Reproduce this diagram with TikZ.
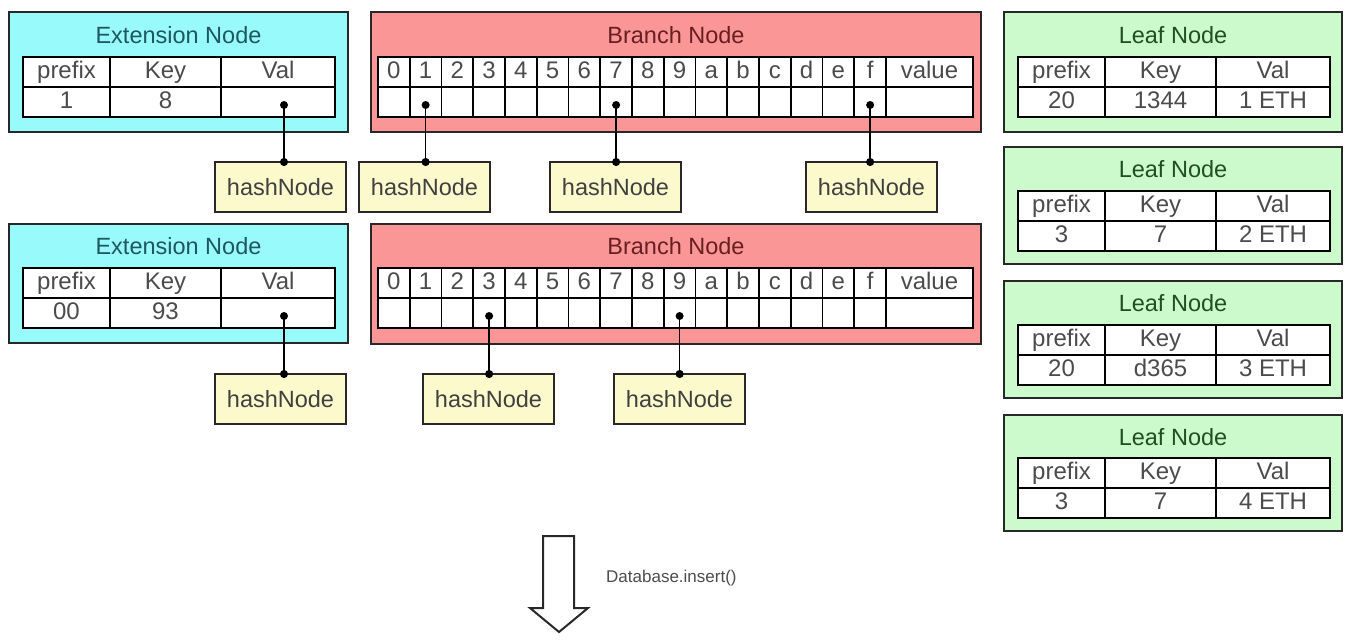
\documentclass[tikz,border=0pt]{standalone}
\usepackage{fontspec}
\setmainfont{Liberation Sans}
\usetikzlibrary{arrows.meta}
\definecolor{extfill}{RGB}{153,250,252}
\definecolor{brfill}{RGB}{250,150,150}
\definecolor{leaffill}{RGB}{204,250,204}
\definecolor{hashfill}{RGB}{252,250,204}
\definecolor{exttext}{RGB}{30,88,95}
\definecolor{brtext}{RGB}{105,30,35}
\definecolor{leaftext}{RGB}{30,80,35}
\definecolor{celltext}{RGB}{75,75,75}
\definecolor{boxline}{RGB}{40,40,40}
\tikzset{
  outerbox/.style={draw=boxline, line width=2pt, anchor=north west, inner sep=0pt, outer sep=0pt},
  extbox/.style={outerbox, fill=extfill},
  brbox/.style={outerbox, fill=brfill},
  leafbox/.style={outerbox, fill=leaffill},
  boxtitle/.style={font=\fontsize{23.5}{27}\selectfont, inner sep=0pt},
  cell/.style={draw=black, line width=1.8pt, fill=white, anchor=north west, inner sep=0pt, outer sep=0pt,
    minimum height=30pt, text height=17pt, text depth=5pt, text=celltext, font=\fontsize{24}{27}\selectfont},
  hashbox/.style={draw=boxline, line width=2pt, fill=hashfill, minimum width=131pt, minimum height=50pt,
    anchor=north west, inner sep=0pt, outer sep=0pt, text=black!75, font=\fontsize{23.5}{27}\selectfont},
  pdot/.style={circle, fill=black, inner sep=0pt, minimum size=8pt},
  conn/.style={line width=1.7pt, -{Circle[length=8pt]}, shorten >=-4pt},
}
\newcommand{\kvtable}[6]{%
  \node[cell, minimum width=87pt] (#1h1) at (#2,#3) {prefix};
  \node[cell, minimum width=111pt] (#1h2) at (#1h1.north east) {Key};
  \node[cell, minimum width=114pt] (#1h3) at (#1h2.north east) {Val};
  \node[cell, minimum width=87pt] (#1v1) at (#1h1.south west) {#4};
  \node[cell, minimum width=111pt] (#1v2) at (#1h2.south west) {#5};
  \node[cell, minimum width=114pt] (#1v3) at (#1h3.south west) {#6};
}
\newcommand{\brtable}[3]{%
  \foreach \c [count=\i] in {0,1,2,3,4,5,6,7,8,9,a,b,c,d,e,f}{
    \node[cell, minimum width=31.75pt] (#1h\i) at ({#2+(\i-1)*31.75},#3) {\c};
    \node[cell, minimum width=31.75pt] (#1v\i) at (#1h\i.south west) {};
  }
  \node[cell, minimum width=87pt] (#1hval) at (#1h16.north east) {value};
  \node[cell, minimum width=87pt] (#1vval) at (#1hval.south west) {};
}
\begin{document}
\begin{tikzpicture}[x=1pt, y=-1pt]
\useasboundingbox[fill=white] (0,0) rectangle (1364,642);

% ---------- Row 1 ----------
\node[extbox, minimum width=339pt, minimum height=120pt] (ext1) at (9,12) {};
\node[boxtitle, text=exttext] (ext1t) at (178.5,35) {Extension Node};
\kvtable{ea}{23}{57}{1}{8}{}
\node[pdot] (ead) at ([xshift=6pt,yshift=-3pt]eav3.center) {};

\node[brbox, minimum width=610pt, minimum height=120pt] (br1) at (371,12) {};
\node[boxtitle, text=brtext] (br1t) at (676,35) {Branch Node};
\brtable{ba}{378}{57}
\node[pdot] (bad1) at ([yshift=-3pt]bav2.center) {};
\node[pdot] (bad7) at ([yshift=-3pt]bav8.center) {};
\node[pdot] (badf) at ([yshift=-3pt]bav16.center) {};

\node[hashbox] (h1) at (215,162) {hashNode};
\node[hashbox] (h2) at (359,162) {hashNode};
\node[hashbox] (h3) at (550,162) {hashNode};
\node[hashbox] (h4) at (806,162) {hashNode};

\draw[conn] (ead.center) -- (ead.center |- h1.north);
\draw[conn] (bad1.center) -- (bad1.center |- h2.north);
\draw[conn] (bad7.center) -- (bad7.center |- h3.north);
\draw[conn] (badf.center) -- (badf.center |- h4.north);

% ---------- Row 2 ----------
\node[extbox, minimum width=339pt, minimum height=119pt] (ext2) at (9,224) {};
\node[boxtitle, text=exttext] (ext2t) at (178.5,246) {Extension Node};
\kvtable{eb}{23}{268}{00}{93}{}
\node[pdot] (ebd) at ([xshift=6pt,yshift=-3pt]ebv3.center) {};

\node[brbox, minimum width=610pt, minimum height=120pt] (br2) at (371,224) {};
\node[boxtitle, text=brtext] (br2t) at (676,246) {Branch Node};
\brtable{bb}{378}{268}
\node[pdot] (bbd3) at ([yshift=-3pt]bbv4.center) {};
\node[pdot] (bbd9) at ([yshift=-3pt]bbv10.center) {};

\node[hashbox] (h5) at (215,374) {hashNode};
\node[hashbox] (h6) at (423,374) {hashNode};
\node[hashbox] (h7) at (614,374) {hashNode};

\draw[conn] (ebd.center) -- (ebd.center |- h5.north);
\draw[conn] (bbd3.center) -- (bbd3.center |- h6.north);
\draw[conn] (bbd9.center) -- (bbd9.center |- h7.north);

% ---------- Leaf nodes ----------
\node[leafbox, minimum width=338pt, minimum height=120pt] (l1) at (1004,12) {};
\node[boxtitle, text=leaftext] (l1t) at (1173,35) {Leaf Node};
\kvtable{la}{1018}{57}{20}{1344}{1 ETH}

\node[leafbox, minimum width=338pt, minimum height=117pt] (l2) at (1004,147) {};
\node[boxtitle, text=leaftext] (l2t) at (1173,169) {Leaf Node};
\kvtable{lb}{1018}{191}{3}{7}{2 ETH}

\node[leafbox, minimum width=338pt, minimum height=117pt] (l3) at (1004,281) {};
\node[boxtitle, text=leaftext] (l3t) at (1173,303) {Leaf Node};
\kvtable{lc}{1018}{325}{20}{d365}{3 ETH}

\node[leafbox, minimum width=338pt, minimum height=116pt] (l4) at (1004,415) {};
\node[boxtitle, text=leaftext] (l4t) at (1173,437) {Leaf Node};
\kvtable{ld}{1018}{458}{3}{7}{4 ETH}

% ---------- Insert arrow ----------
\draw[line width=2pt, draw=boxline, fill=white, line join=miter]
  (543,536) -- (574,536) -- (574,608) -- (588,608) -- (559,632) -- (530,608) -- (543,608) -- cycle;
\node[anchor=west, inner sep=0pt, text=black!70, font=\fontsize{17}{20}\selectfont] (ins) at (606,578) {Database.insert()};
\end{tikzpicture}
\end{document}
